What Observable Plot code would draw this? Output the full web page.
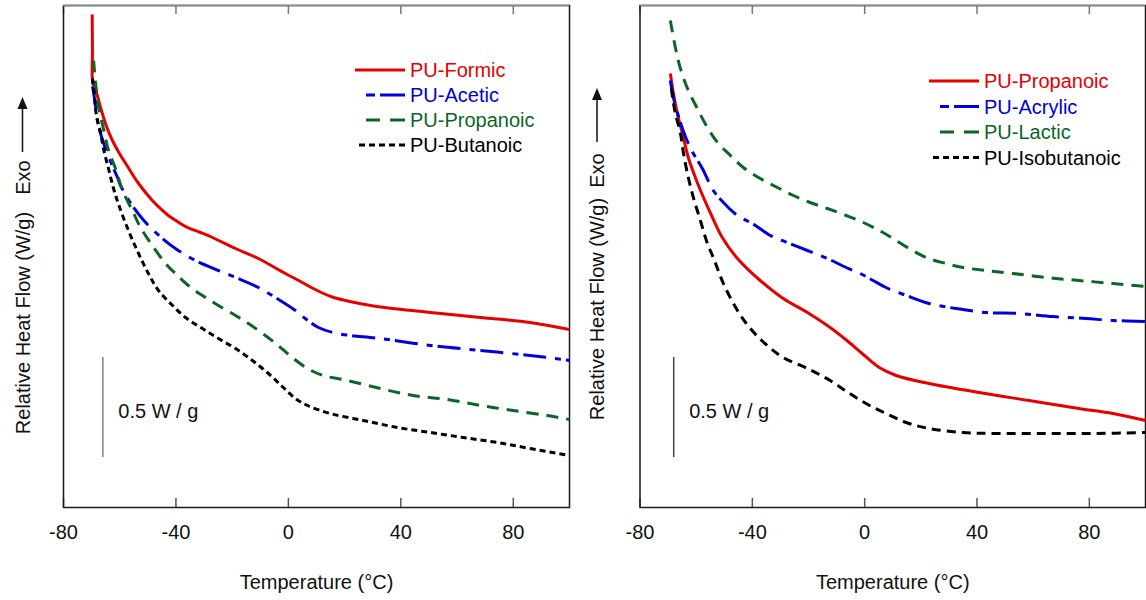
<!DOCTYPE html>
<html>
<head>
<meta charset="utf-8">
<script src="https://cdn.jsdelivr.net/npm/d3@7"></script>
<script src="https://cdn.jsdelivr.net/npm/@observablehq/plot@0.6"></script>
<style>
html, body { margin: 0; padding: 0; background: #fff; overflow: hidden; }
#wrap { position: relative; width: 1146px; height: 600px; }
#wrap svg { position: absolute; top: 0; }
</style>
</head>
<body>
<div id="wrap"></div>
<script>
// ---------- data (temperature °C, relative heat flow W/g) ----------
const xTicks = [-80, -40, 0, 40, 80];
const xLabel = "Temperature (°C)";
const yLabel = "Relative Heat Flow (W/g)";
const exoLabel = "Exo";
const scaleLabel = "0.5 W / g";

// left panel
const leftNames = ["PU-Formic", "PU-Acetic", "PU-Propanoic", "PU-Butanoic"];
const puFormic = [[-69.8,2.465],[-69.7,2.285],[-69.6,2.125],[-68.3,2.075],[-66.5,1.985],[-64.7,1.905],[-62.6,1.835],[-60.1,1.77],[-57.2,1.705],[-53.3,1.62],[-48.4,1.535],[-45.5,1.495],[-42.7,1.46],[-39.5,1.43],[-35.9,1.40],[-31.3,1.375],[-27.0,1.35],[-18.8,1.295],[-10.7,1.245],[-1.1,1.17],[4.3,1.13],[8.5,1.0975],[12.1,1.0725],[15.6,1.0525],[20.3,1.035],[26.3,1.0175],[32.7,1.0025],[50.5,0.975],[68.3,0.95],[86.0,0.925],[100,0.89]];
const puAcetic = [[-69.7,2.105],[-69.3,2.075],[-68.3,1.975],[-67.6,1.91],[-65.8,1.825],[-64.4,1.77],[-62.2,1.695],[-60.8,1.65],[-59.7,1.61],[-55.8,1.515],[-50.8,1.425],[-44.8,1.345],[-40.2,1.295],[-33.1,1.235],[-24.9,1.185],[-17.8,1.145],[-10.7,1.10],[-4.6,1.05],[2.5,0.985],[6.0,0.945],[10.7,0.90],[17.4,0.87],[32.7,0.845],[50.5,0.81],[68.3,0.785],[86.0,0.76],[100,0.735]];
const puPropanoicL = [[-69.3,2.235],[-68.6,2.125],[-67.6,2.01],[-65.8,1.895],[-64.0,1.785],[-61.5,1.695],[-59.0,1.585],[-55.5,1.485],[-52.6,1.40],[-48.4,1.31],[-43.7,1.22],[-40.2,1.17],[-35.6,1.11],[-30.6,1.06],[-24.9,1.01],[-18.8,0.96],[-14.2,0.92],[-8.2,0.86],[-3.6,0.81],[1.4,0.75],[6.8,0.695],[12.4,0.66],[21.0,0.635],[32.7,0.595],[44.4,0.56],[56.5,0.54],[68.3,0.51],[80.0,0.485],[92.1,0.46],[100,0.44]];
const puButanoic = [[-69.7,2.145],[-69.0,2.06],[-68.3,1.96],[-66.8,1.875],[-65.8,1.795],[-64.0,1.695],[-62.2,1.595],[-60.4,1.515],[-56.9,1.385],[-53.3,1.27],[-49.8,1.17],[-46.2,1.085],[-41.2,1.01],[-36.6,0.95],[-30.6,0.895],[-24.9,0.845],[-18.8,0.795],[-12.8,0.735],[-7.1,0.67],[-1.8,0.60],[2.5,0.545],[6.8,0.51],[14.9,0.47],[26.7,0.435],[38.8,0.40],[50.5,0.375],[62.2,0.35],[74.3,0.325],[86.0,0.295],[100,0.26]];

// right panel
const rightNames = ["PU-Propanoic", "PU-Acrylic", "PU-Lactic", "PU-Isobutanoic"];
const puPropanoicR = [[-69.2,2.17],[-68.1,2.07],[-66.7,1.97],[-64.9,1.87],[-62.8,1.75],[-60.3,1.65],[-57.4,1.55],[-54.2,1.45],[-50.7,1.35],[-45.3,1.245],[-37.2,1.135],[-29.0,1.045],[-20.4,0.975],[-12.3,0.90],[-5.9,0.83],[-0.5,0.765],[5.2,0.70],[11.2,0.66],[22.9,0.62],[40.7,0.575],[58.5,0.535],[76.3,0.495],[88.4,0.47],[100,0.435]];
const puAcrylic = [[-69.2,2.135],[-68.1,2.05],[-66.7,1.975],[-64.9,1.895],[-62.8,1.82],[-61.0,1.77],[-57.8,1.695],[-53.9,1.585],[-50.3,1.525],[-45.3,1.46],[-40.0,1.42],[-33.6,1.36],[-27.6,1.325],[-20.4,1.285],[-13.3,1.245],[-6.6,1.20],[-1.6,1.17],[3.0,1.135],[7.6,1.10],[14.8,1.06],[22.9,1.02],[32.5,0.995],[43.2,0.975],[54.9,0.97],[67.0,0.955],[78.8,0.945],[88.4,0.935],[100,0.93]];
const puLactic = [[-69.2,2.435],[-67.4,2.30],[-65.6,2.195],[-62.8,2.085],[-59.6,1.995],[-56.0,1.90],[-52.4,1.825],[-47.8,1.76],[-43.2,1.70],[-37.2,1.645],[-31.1,1.60],[-25.4,1.56],[-19.4,1.525],[-13.3,1.495],[-6.6,1.46],[-0.5,1.425],[5.2,1.385],[10.1,1.345],[15.8,1.295],[21.9,1.25],[29.0,1.22],[35.0,1.20],[43.2,1.185],[52.8,1.17],[64.5,1.15],[76.3,1.135],[88.4,1.12],[100,1.105]];
const puIsobutanoic = [[-68.8,2.095],[-68.4,2.05],[-67.4,1.97],[-65.6,1.87],[-64.5,1.77],[-62.8,1.65],[-61.0,1.55],[-58.5,1.435],[-56.0,1.32],[-53.9,1.25],[-50.3,1.12],[-45.3,0.985],[-40.7,0.895],[-34.7,0.81],[-29.0,0.75],[-20.4,0.695],[-12.3,0.635],[-5.9,0.575],[0.5,0.52],[7.6,0.47],[14.8,0.425],[22.9,0.395],[35.0,0.375],[46.8,0.37],[64.5,0.37],[82.3,0.37],[100,0.375]];

// 0.5 W/g scale bars: [temperature, from, to]
const scaleBarLeft = [-66, 0.25, 0.75];
const scaleBarRight = [-68, 0.25, 0.75];

// ---------- styles ----------
const RED = "#e60000", BLUE = "#0000dd", GREEN = "#0b6626", BLACK = "#000000";
const FONT = "'Liberation Sans', Arial, Helvetica, sans-serif";
const H = 600, MT = 5, MB = 93;
const plotH = H - MT - MB;
const yDomain = [0, 2.51];

const rows = pairs => pairs.map(([t, v]) => ({t, v}));

function panel(cfg) {
  const series = cfg.series;
  const marks = [
    // ticks (inward), bottom and top
    Plot.ruleX(xTicks, {x: d => d, insetTop: plotH - 9, stroke: "#555", strokeWidth: 1.5}),
    Plot.ruleX(xTicks, {x: d => d, insetBottom: plotH - 9, stroke: "#777", strokeWidth: 1.5}),
    Plot.frame({stroke: "#1a1a1a", strokeWidth: 1.5}),
    Plot.ruleY([yDomain[1]], {stroke: "#8a8a8a", strokeWidth: 1.5}),
    Plot.axisX({ticks: xTicks, tickSize: 0, tickPadding: 17, tickFormat: d => String(d), fontSize: 20, label: null, fill: "#111"}),
    Plot.text([xLabel], {frameAnchor: "bottom", dy: 81, text: d => d, fontSize: 20, fill: "#111"}),
    // scale bar
    Plot.ruleX([cfg.scaleBar], {x: d => d[0], y1: d => d[1], y2: d => d[2], stroke: cfg.barColor, strokeWidth: 1.5}),
    Plot.text([cfg.scaleBar], {x: d => d[0] + 5.5, y: d => (d[1] + d[2]) / 2 - 0.02, text: () => scaleLabel, textAnchor: "start", fontSize: 20, fill: "#111"})
  ];
  for (const s of series) {
    marks.push(Plot.line(rows(s.data), {
      x: "t", y: "v", stroke: s.color, strokeWidth: 3,
      strokeDasharray: s.dash || null, strokeLinecap: "butt", strokeLinejoin: "round",
      curve: "catmull-rom"
    }));
  }
  const svg = Plot.plot({
    width: cfg.width, height: H,
    marginLeft: cfg.ml, marginRight: cfg.mr, marginTop: MT, marginBottom: MB,
    x: {domain: [-80, 100], axis: null},
    y: {domain: yDomain, axis: null},
    style: {fontFamily: FONT, fontSize: "20px", background: "transparent", overflow: "visible"},
    marks
  });
  svg.style.left = cfg.left + "px";
  const g = d3.select(svg).append("g").attr("font-family", FONT).attr("font-size", 20);

  // y label (rotated), "Exo" and arrow
  const yl = cfg.ylab;
  g.append("text")
    .attr("transform", `translate(${yl.x},${yl.textY}) rotate(-90)`)
    .attr("text-anchor", "middle").attr("dy", "0.35em").attr("fill", "#111")
    .text(yLabel);
  g.append("text")
    .attr("transform", `translate(${yl.x},${yl.exoY}) rotate(-90)`)
    .attr("text-anchor", "middle").attr("dy", "0.35em").attr("fill", "#111")
    .text(exoLabel);
  g.append("line")
    .attr("x1", yl.x).attr("x2", yl.x)
    .attr("y1", yl.arrowBottom).attr("y2", yl.arrowTip + 8)
    .attr("stroke", "#111").attr("stroke-width", 1.5);
  g.append("path")
    .attr("d", `M${yl.x},${yl.arrowTip}L${yl.x - 5},${yl.arrowTip + 12}L${yl.x + 5},${yl.arrowTip + 12}Z`)
    .attr("fill", "#111");

  // legend
  const lg = cfg.legend;
  series.forEach((s, i) => {
    const y = lg.y0 + i * lg.dy;
    g.append("line")
      .attr("x1", lg.x2).attr("x2", lg.x2 - s.legendLen)
      .attr("y1", y).attr("y2", y)
      .attr("stroke", s.color).attr("stroke-width", 3)
      .attr("stroke-dasharray", s.legendDash || null);
    g.append("text")
      .attr("x", lg.textX).attr("y", y).attr("dy", "0.35em")
      .attr("text-anchor", "start")
      .attr("fill", s.color)
      .text(s.name);
  });
  return svg;
}

const wrap = document.getElementById("wrap");

wrap.appendChild(panel({
  left: 0, width: 573, ml: 63, mr: 4,
  scaleBar: scaleBarLeft, barColor: "#808080",
  ylab: {x: 22.5, textY: 323, exoY: 177.5, arrowTip: 97, arrowBottom: 152},
  legend: {x2: 405, textX: 410, y0: 70, dy: 25},
  series: [
    {name: leftNames[0], data: puFormic, color: RED, legendLen: 50},
    {name: leftNames[1], data: puAcetic, color: BLUE, dash: "23,9,6,5", legendLen: 39, legendDash: "25,5,9,100"},
    {name: leftNames[2], data: puPropanoicL, color: GREEN, dash: "12,8", legendLen: 39, legendDash: "15,10,14,100"},
    {name: leftNames[3], data: puButanoic, color: BLACK, dash: "6,4", legendLen: 50, legendDash: "6,4"}
  ]
}));

wrap.appendChild(panel({
  left: 576, width: 570, ml: 63.5, mr: 1,
  scaleBar: scaleBarRight, barColor: "#444",
  ylab: {x: 21, textY: 309, exoY: 170.5, arrowTip: 88, arrowBottom: 142},
  legend: {x2: 403, textX: 408, y0: 81, dy: 25.5},
  series: [
    {name: rightNames[0], data: puPropanoicR, color: RED, legendLen: 50},
    {name: rightNames[1], data: puAcrylic, color: BLUE, dash: "23,9,6,5", legendLen: 39, legendDash: "25,5,9,100"},
    {name: rightNames[2], data: puLactic, color: GREEN, dash: "12,8", legendLen: 39, legendDash: "15,10,14,100"},
    {name: rightNames[3], data: puIsobutanoic, color: BLACK, dash: "9,6", legendLen: 50, legendDash: "6,4"}
  ]
}));
</script>
</body>
</html>
